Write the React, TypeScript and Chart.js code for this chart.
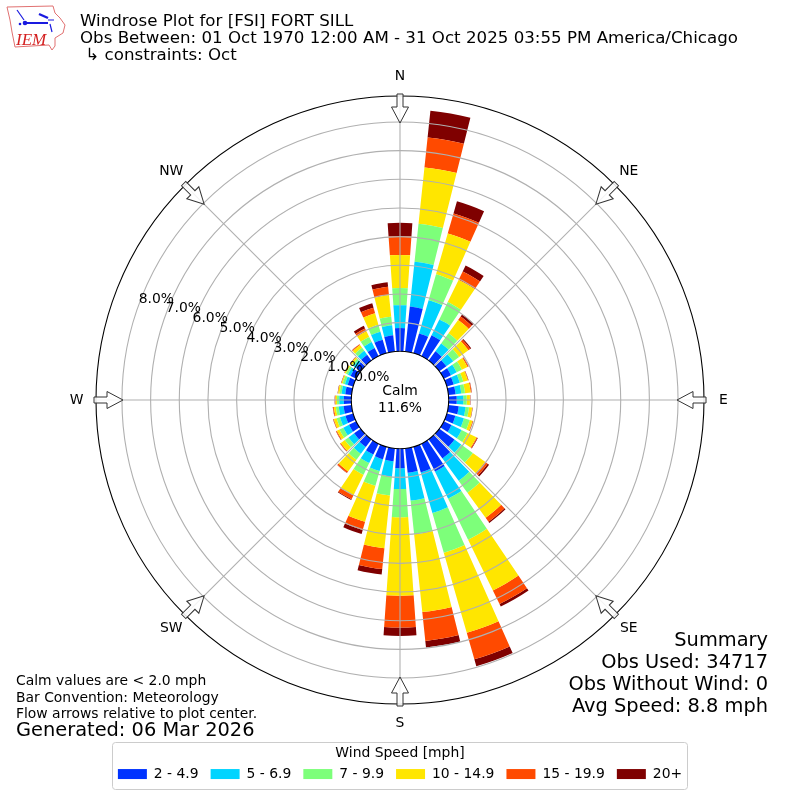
import React, { useEffect, useRef } from "react";
import { Chart, registerables, PolarAreaController } from "chart.js";

// Bearings of the 36 direction bins (degrees) and the cumulative percent of obs
// reached at the top of each speed class, bin by bin.
const directions = [0,10,20,30,40,50,60,70,80,90,100,110,120,130,140,150,160,170,180,190,200,210,220,230,240,250,260,270,280,290,300,310,320,330,340,350];
const upTo4_9 = [.81,1.58,.71,.81,.4,.3,.28,.25,.25,.28,.36,.31,.3,.65,.82,1.08,.93,.85,.68,.45,.45,.42,.33,.28,.28,.28,.28,.26,.22,.2,.22,.2,.25,.32,.49,.57];
const upTo6_9 = [1.61,3.15,1.92,1.43,.74,.6,.5,.47,.45,.51,.6,.62,.69,.94,1.78,2.13,2.4,1.83,1.41,.99,.88,.75,.62,.52,.5,.48,.45,.42,.35,.3,.32,.3,.42,.55,.78,.92];
const upTo9_9 = [2.21,4.48,2.86,2.1,1.18,.85,.7,.6,.58,.63,.72,.83,.92,1.44,2.3,3.72,3.84,3.01,2.39,1.65,1.41,1.2,.88,.68,.65,.6,.55,.5,.42,.38,.4,.37,.55,.75,1.03,1.22];
const upTo14_9 = [3.36,6.46,4.34,2.96,1.75,1.25,.92,.76,.78,.74,.83,.93,1.27,1.97,3.38,5.69,6.75,5.74,5.13,3.5,2.72,2,1.38,.85,.75,.7,.62,.55,.47,.42,.45,.43,.67,.97,1.45,1.98];
const upTo19_9 = [4.02,7.51,5.07,3.29,1.9,1.33,.96,.78,.81,.75,.84,.95,1.3,2.08,3.55,6.22,7.71,6.75,6.24,4.23,3.02,2.15,1.44,.88,.78,.72,.65,.57,.48,.43,.46,.45,.7,1.08,1.65,2.27];
const upToMax = [4.48,8.45,5.51,3.52,2,1.37,.97,.79,.82,.76,.85,.96,1.32,2.14,3.6,6.32,7.96,6.98,6.53,4.42,3.16,2.18,1.45,.89,.79,.73,.66,.58,.49,.44,.47,.46,.71,1.18,1.81,2.43];

const speedLabels = ["2 - 4.9", "5 - 6.9", "7 - 9.9", "10 - 14.9", "15 - 19.9", "20+"];
const speedColors = ["#0033ff", "#00d4ff", "#7dff7a", "#ffe600", "#ff4a00", "#7f0000"];
const speedSeries = [upTo4_9, upTo6_9, upTo9_9, upTo14_9, upTo19_9, upToMax];

const radialTicks = [0, 1, 2, 3, 4, 5, 6, 7, 8];
const compass = ["N", "NE", "E", "SE", "S", "SW", "W", "NW"];
const R_MIN = -1.6987;
const R_MAX = 8.905;
const FONT = "'DejaVu Sans'";

const titleLines = [
  "Windrose Plot for [FSI] FORT SILL",
  "Obs Between: 01 Oct 1970 12:00 AM - 31 Oct 2025 03:55 PM America/Chicago",
  " \u21b3 constraints: Oct",
];
const summaryLines = ["Summary", "Obs Used: 34717", "Obs Without Wind: 0", "Avg Speed: 8.8 mph"];
const noteLines = ["Calm values are < 2.0 mph", "Bar Convention: Meteorology", "Flow arrows relative to plot center."];

class WindroseController extends PolarAreaController {
  static id = "windrose";
  static defaults = {};
  static overrides = PolarAreaController.overrides;
  updateElements(arcs: any[], start: number, count: number, mode: any) {
    const me: any = this;
    const scale = me.chart.scales.r;
    const labels = me.chart.data.labels;
    const step = (Math.PI * 2) / labels.length;
    const half = (step * 0.8) / 2;
    const values = me.getDataset().data;
    const below = me.index > 0 ? me.chart.data.datasets[me.index - 1].data : null;
    for (let i = start; i < start + count; i++) {
      const centre = (labels[i] * Math.PI) / 180 - Math.PI / 2;
      const inner = below ? below[i] : 0;
      me.updateElement(arcs[i], i, {
        x: scale.xCenter,
        y: scale.yCenter,
        innerRadius: scale.getDistanceFromCenterForValue(inner),
        outerRadius: scale.getDistanceFromCenterForValue(values[i]),
        startAngle: centre - half,
        endAngle: centre + half,
        circumference: half * 2,
        options: me.resolveDataElementOptions(i, mode),
      }, mode);
    }
  }
}

Chart.register(...registerables, WindroseController as any);

const decorations = {
  id: "windroseDecor",
  beforeDraw(chart: any) {
    const hit = chart.legend.legendHitBoxes;
    if (!hit || !hit.length) return;
    const ctx = chart.ctx;
    ctx.save();
    ctx.strokeStyle = "#cccccc";
    ctx.lineWidth = 1;
    ctx.beginPath();
    ctx.roundRect(112.5, chart.legend.top + 0.5, 575, 47, 3);
    ctx.stroke();
    ctx.restore();
  },
  afterDraw(chart: any) {
    const ctx = chart.ctx;
    const scale = chart.scales.r;
    const cx = scale.xCenter;
    const cy = scale.yCenter;
    const r0 = scale.getDistanceFromCenterForValue(0);
    const rEnd = scale.drawingArea;
    ctx.save();
    compass.forEach((name, i) => {
      const a = (i * Math.PI) / 4;
      const sx = Math.sin(a);
      const sy = -Math.cos(a);
      // spoke
      ctx.strokeStyle = "#b0b0b0";
      ctx.lineWidth = 1.1;
      ctx.beginPath();
      ctx.moveTo(cx + sx * r0, cy + sy * r0);
      ctx.lineTo(cx + sx * rEnd, cy + sy * rEnd);
      ctx.stroke();
      // flow arrow
      ctx.save();
      ctx.translate(cx, cy);
      ctx.rotate(a);
      ctx.beginPath();
      ctx.moveTo(-3, -rEnd - 2);
      ctx.lineTo(3, -rEnd - 2);
      ctx.lineTo(3, -rEnd + 11);
      ctx.lineTo(8.5, -rEnd + 11);
      ctx.lineTo(0, -rEnd + 27);
      ctx.lineTo(-8.5, -rEnd + 11);
      ctx.lineTo(-3, -rEnd + 11);
      ctx.closePath();
      ctx.fillStyle = "rgba(255,255,255,0.85)";
      ctx.fill();
      ctx.strokeStyle = "#333333";
      ctx.lineWidth = 1;
      ctx.stroke();
      ctx.restore();
      // compass label
      ctx.fillStyle = "#000";
      ctx.font = `13.9px ${FONT}`;
      ctx.textAlign = "center";
      ctx.textBaseline = "middle";
      ctx.fillText(name, cx + sx * (rEnd + 19.5), cy + sy * (rEnd + 19.5));
    });
    // radial tick labels along bearing 290
    const b = (290 * Math.PI) / 180;
    ctx.textAlign = "left";
    ctx.textBaseline = "bottom";
    ctx.fillStyle = "#000";
    ctx.font = `13.9px ${FONT}`;
    radialTicks.forEach((v) => {
      const d = scale.getDistanceFromCenterForValue(v);
      ctx.fillText(`${v.toFixed(1)}%`, cx + Math.sin(b) * d, cy - Math.cos(b) * d + 1);
    });
    // calm
    ctx.textAlign = "center";
    ctx.textBaseline = "middle";
    ctx.fillText("Calm", cx, cy - 9);
    ctx.fillText("11.6%", cx, cy + 8);
    ctx.restore();
  },
};

function Logo() {
  return (
    <svg width="70" height="54" style={{ position: "absolute", left: 0, top: 0 }}>
      <path d="M7 7 L53 6 L55 13 L60 18 L65 25 L63 33 L55 38 L55 46 L52 50 L49 45 L15 47 L12 32 L10 20 Z" fill="#fff" stroke="#e07070" strokeWidth="1" />
      <path d="M25 23 L48 23" stroke="#1a1ae0" strokeWidth="2" />
      <circle cx="25" cy="23" r="2.3" fill="#1a1ae0" />
      <circle cx="20" cy="24" r="1.3" fill="#1a1ae0" />
      <path d="M17 10 L24 20" stroke="#1a1ae0" strokeWidth="1.2" />
      <path d="M39 14 L48 18" stroke="#1a1ae0" strokeWidth="2.4" />
      <path d="M48 20 L54 20 M50 24 L52 32" stroke="#1a1ae0" strokeWidth="1.2" />
      <text x="16" y="45" fontFamily="'Liberation Serif'" fontStyle="italic" fontSize="17" fill="#d42020">IEM</text>
    </svg>
  );
}

const textLine = (s: string, style: React.CSSProperties): React.CSSProperties => ({
  position: "absolute",
  whiteSpace: "pre",
  fontFamily: FONT,
  color: "#000",
  ...style,
});

export default function App() {
  const ref = useRef<HTMLCanvasElement>(null);
  useEffect(() => {
    const chart = new Chart(ref.current as any, {
      type: "windrose" as any,
      data: {
        labels: directions as any,
        datasets: speedSeries.map((data, i) => ({
          label: speedLabels[i],
          data,
          backgroundColor: speedColors[i],
          borderWidth: 0,
        })),
      },
      options: {
        responsive: false,
        animation: false,
        layout: { padding: { top: 58, bottom: 9, left: 96, right: 96 } },
        scales: {
          r: {
            type: "radialLinear",
            min: R_MIN,
            max: R_MAX,
            beginAtZero: false,
            afterBuildTicks: (s: any) => {
              s.ticks = [...radialTicks, R_MAX].map((value) => ({ value }));
            },
            ticks: { display: false },
            pointLabels: { display: false },
            angleLines: { display: false },
            grid: {
              z: 1,
              circular: true,
              lineWidth: 1.1,
              color: (c: any) => (c.tick && (c.tick.value === 0 || c.tick.value === R_MAX) ? "#000000" : "#b0b0b0"),
            },
          },
        } as any,
        plugins: {
          tooltip: { enabled: false },
          legend: {
            display: true,
            position: "bottom",
            title: {
              display: true,
              text: "Wind Speed [mph]",
              color: "#000",
              font: { family: FONT, size: 13.9 },
              padding: { top: 4, bottom: -7.58, left: 0, right: 0 } as any,
            },
            labels: {
              boxWidth: 29,
              boxHeight: 10,
              padding: 12,
              color: "#000",
              font: { family: FONT, size: 13.9 },
              generateLabels: (c: any) =>
                c.data.datasets.map((d: any, i: number) => ({
                  text: d.label,
                  fillStyle: d.backgroundColor,
                  strokeStyle: d.backgroundColor,
                  lineWidth: 0,
                  hidden: false,
                  datasetIndex: i,
                })),
            },
          },
        },
      } as any,
      plugins: [decorations],
    });
    return () => chart.destroy();
  }, []);

  return (
    <div style={{ position: "absolute", left: 0, top: 0, width: 800, height: 800, overflow: "hidden", background: "#fff" }}>
      <canvas ref={ref} width={800} height={800} style={{ position: "absolute", left: 0, top: 0 }} />
      <Logo />
      {titleLines.map((s, i) => (
        <div key={s} style={textLine(s, { left: 80, top: 12 + i * 17, fontSize: 16.67, lineHeight: "18px" })}>{s}</div>
      ))}
      {summaryLines.map((s, i) => (
        <div key={s} style={textLine(s, { right: 32, top: 629 + i * 22, fontSize: 19.4, lineHeight: "22px" })}>{s}</div>
      ))}
      {noteLines.map((s, i) => (
        <div key={s} style={textLine(s, { left: 16, top: 672 + i * 16.7, fontSize: 13.9, lineHeight: "17px" })}>{s}</div>
      ))}
      <div style={textLine("", { left: 16, top: 719, fontSize: 19.4, lineHeight: "22px" })}>Generated: 06 Mar 2026</div>
    </div>
  );
}
